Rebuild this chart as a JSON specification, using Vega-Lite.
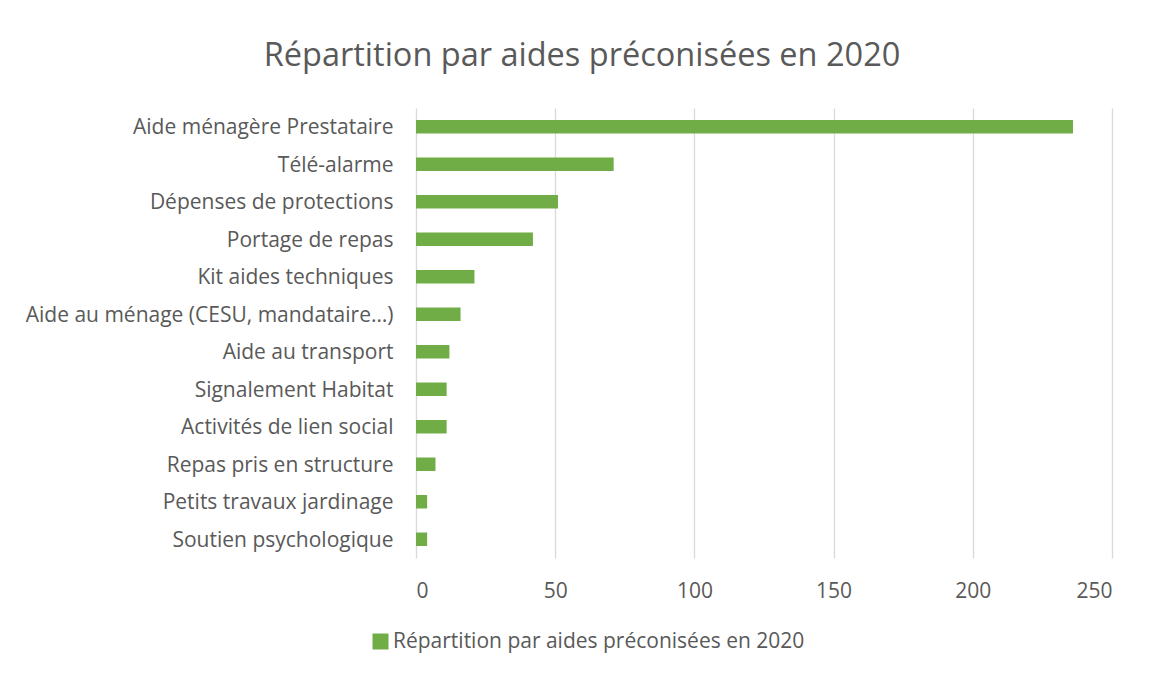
{
  "$schema": "https://vega.github.io/schema/vega-lite/v6.json",
  "width": 696,
  "height": 450,
  "autosize": "none",
  "padding": {"left": 416, "top": 108, "right": 37, "bottom": 117},
  "background": "white",
  "title": {
    "text": "Répartition par aides préconisées en 2020",
    "font": "Open Sans",
    "fontSize": 32.5,
    "fontWeight": "normal",
    "color": "#595959",
    "anchor": "middle",
    "dx": -182,
    "offset": 36
  },
  "data": {
    "values": [
      {"aide": "Aide ménagère Prestataire", "n": 236, "serie": "Répartition par aides préconisées en 2020"},
      {"aide": "Télé-alarme", "n": 71, "serie": "Répartition par aides préconisées en 2020"},
      {"aide": "Dépenses de protections", "n": 51, "serie": "Répartition par aides préconisées en 2020"},
      {"aide": "Portage de repas", "n": 42, "serie": "Répartition par aides préconisées en 2020"},
      {"aide": "Kit aides techniques", "n": 21, "serie": "Répartition par aides préconisées en 2020"},
      {"aide": "Aide au ménage (CESU, mandataire…)", "n": 16, "serie": "Répartition par aides préconisées en 2020"},
      {"aide": "Aide au transport", "n": 12, "serie": "Répartition par aides préconisées en 2020"},
      {"aide": "Signalement Habitat", "n": 11, "serie": "Répartition par aides préconisées en 2020"},
      {"aide": "Activités de lien social", "n": 11, "serie": "Répartition par aides préconisées en 2020"},
      {"aide": "Repas pris en structure", "n": 7, "serie": "Répartition par aides préconisées en 2020"},
      {"aide": "Petits travaux jardinage", "n": 4, "serie": "Répartition par aides préconisées en 2020"},
      {"aide": "Soutien psychologique", "n": 4, "serie": "Répartition par aides préconisées en 2020"}
    ]
  },
  "mark": {"type": "bar"},
  "encoding": {
    "y": {
      "field": "aide",
      "type": "nominal",
      "sort": null,
      "scale": {"paddingInner": 0.64, "paddingOuter": 0.32},
      "axis": {
        "title": null,
        "domain": false,
        "ticks": false,
        "labelPadding": 23,
        "labelOffset": 1.5,
        "labelFont": "Open Sans",
        "labelFontSize": 21,
        "labelColor": "#595959",
        "labelLimit": 500
      }
    },
    "x": {
      "field": "n",
      "type": "quantitative",
      "scale": {"domain": [0, 250], "nice": false},
      "axis": {
        "title": null,
        "values": [0, 50, 100, 150, 200, 250],
        "domain": false,
        "ticks": false,
        "grid": true,
        "gridColor": "#d9d9d9",
        "gridWidth": 1.3,
        "labelPadding": 22,
        "labelFont": "Open Sans",
        "labelFontSize": 21,
        "labelColor": "#595959"
      }
    },
    "color": {
      "field": "serie",
      "type": "nominal",
      "scale": {"range": ["#70AD47"]},
      "legend": {
        "title": null,
        "orient": "none",
        "legendX": -46,
        "legendY": 523,
        "symbolType": "square",
        "symbolSize": 256,
        "symbolOpacity": 1,
        "symbolOffset": 0,
        "labelOffset": 2,
        "labelFont": "Open Sans",
        "labelFontSize": 21,
        "labelColor": "#595959",
        "labelLimit": 600
      }
    }
  },
  "config": {"view": {"stroke": null}}
}
